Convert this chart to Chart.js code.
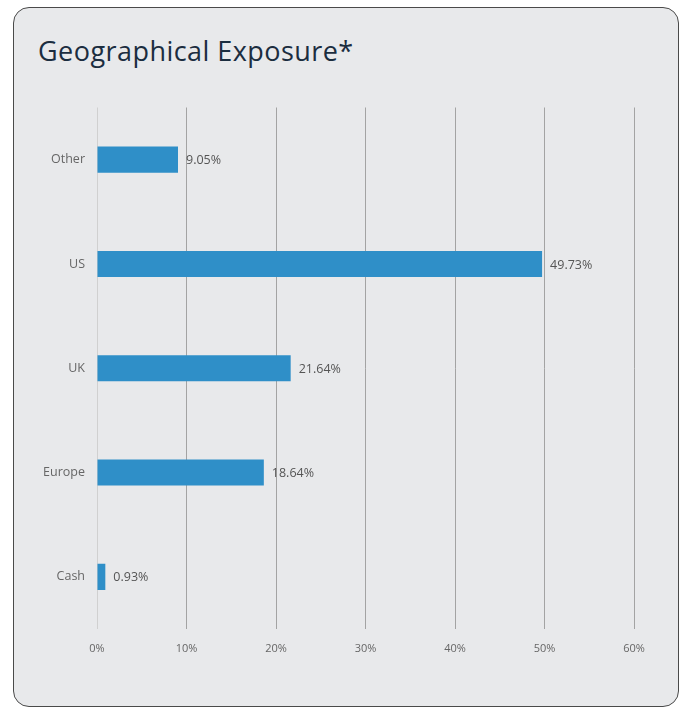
<!DOCTYPE html>
<html><head><meta charset="utf-8">
<script src="https://cdn.jsdelivr.net/npm/chart.js@4/dist/chart.umd.min.js"></script>
<style>
html,body{margin:0;padding:0;background:#fff;width:683px;height:711px;overflow:hidden;}
#card{position:absolute;left:13px;top:7px;width:664px;height:698px;border:1.5px solid #4a4a4a;border-radius:16px;background:#e8e9eb;}
#title{position:absolute;left:38px;top:34px;font-family:"Open Sans",sans-serif;font-size:27px;letter-spacing:0.45px;line-height:34px;color:#1b2d3f;white-space:nowrap;}
#wrap{position:absolute;left:20px;top:88px;width:650px;height:587px;}
</style></head><body>
<div id="card"></div>
<div id="title">Geographical Exposure*</div>
<div id="wrap"><canvas id="c" width="650" height="587"></canvas></div>
<script>
const categories = ["Other","US","UK","Europe","Cash"];
const values = [9.05,49.73,21.64,18.64,0.93];
const valueLabels = ["9.05%","49.73%","21.64%","18.64%","0.93%"];
const xTicks = [0,10,20,30,40,50,60];

const labelPlugin = {
  id:'vlabels',
  afterDatasetsDraw(chart){
    const ctx = chart.ctx;
    const meta = chart.getDatasetMeta(0);
    ctx.save();
    ctx.font = '12.5px "Open Sans", sans-serif';
    ctx.fillStyle = '#555';
    ctx.textBaseline = 'middle';
    ctx.textAlign = 'left';
    meta.data.forEach((bar,i)=>{
      ctx.fillText(valueLabels[i], bar.x + 8, bar.y + 1);
    });
    ctx.restore();
  }
};

new Chart(document.getElementById('c'), {
  type:'bar',
  data:{labels:categories, datasets:[{data:values, backgroundColor:'#2f8fc8', borderWidth:0, barPercentage:0.5, categoryPercentage:0.5}]},
  options:{
    indexAxis:'y', responsive:false, animation:false,
    layout:{padding:{top:4,right:36,bottom:0,left:0}},
    plugins:{legend:{display:false}, tooltip:{enabled:false}},
    scales:{
      x:{min:0,max:60,
        afterBuildTicks(s){ s.ticks = xTicks.map(v=>({value:v})); },
        afterFit(s){ s.height = 46; },
        border:{display:false},
        grid:{drawTicks:false, color:(c)=> c.tick && c.tick.value===0 ? '#d0d0d0' : '#a3a3a3', lineWidth:1},
        ticks:{padding:13, color:'#666', font:{family:'"Open Sans", sans-serif', size:11}, callback:(v)=>v+'%'}
      },
      y:{
        afterFit(s){ s.width = 77; },
        border:{display:false},
        grid:{display:false, drawTicks:false},
        ticks:{padding:12, color:'#666', font:{family:'"Open Sans", sans-serif', size:12.5}}
      }
    }
  },
  plugins:[labelPlugin]
});
</script>
</body></html>
